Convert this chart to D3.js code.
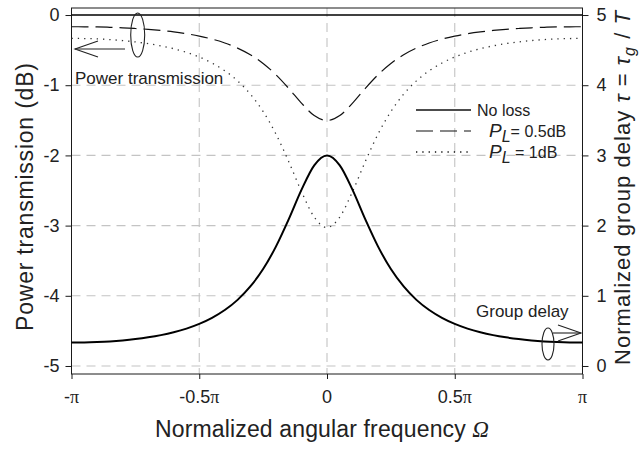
<!DOCTYPE html>
<html><head><meta charset="utf-8">
<script src="https://cdn.jsdelivr.net/npm/d3@7"></script>
<style>
body{margin:0;background:#fff;}
svg{display:block;font-family:"Liberation Sans",Arial,Helvetica,sans-serif;}
</style></head>
<body>
<svg id="c" width="644" height="450"></svg>
<script>
// Normalized angular frequency (units of pi)
const omegaPi = [-1,-0.95,-0.9,-0.85,-0.8,-0.75,-0.7,-0.65,-0.6,-0.55,-0.5,-0.45,-0.4,-0.35,-0.3,-0.25,-0.2,-0.15,-0.1,-0.05,0,
  0.05,0.1,0.15,0.2,0.25,0.3,0.35,0.4,0.45,0.5,0.55,0.6,0.65,0.7,0.75,0.8,0.85,0.9,0.95,1];
// Power transmission (dB)
const powerNoLoss = [0,0,0,0,0,0,0,0,0,0,0,0,0,0,0,0,0,0,0,0,0,0,0,0,0,0,0,0,0,0,0,0,0,0,0,0,0,0,0,0,0];
const power05dB = [-0.167,-0.168,-0.170,-0.175,-0.182,-0.192,-0.204,-0.220,-0.240,-0.266,-0.300,-0.343,-0.398,-0.471,-0.566,-0.690,-0.850,-1.044,-1.255,-1.432,-1.503,
  -1.432,-1.255,-1.044,-0.850,-0.690,-0.566,-0.471,-0.398,-0.343,-0.300,-0.266,-0.240,-0.220,-0.204,-0.192,-0.182,-0.175,-0.170,-0.168,-0.167];
const power1dB = [-0.333,-0.335,-0.340,-0.350,-0.364,-0.383,-0.408,-0.439,-0.480,-0.532,-0.598,-0.684,-0.794,-0.938,-1.127,-1.375,-1.694,-2.086,-2.514,-2.879,-3.027,
  -2.879,-2.514,-2.086,-1.694,-1.375,-1.127,-0.938,-0.794,-0.684,-0.598,-0.532,-0.480,-0.439,-0.408,-0.383,-0.364,-0.350,-0.340,-0.335,-0.333];
// Normalized group delay
const groupDelay = [0.333,0.335,0.341,0.350,0.364,0.383,0.408,0.440,0.481,0.533,0.600,0.686,0.797,0.942,1.133,1.381,1.701,2.089,2.509,2.859,3.000,
  2.859,2.509,2.089,1.701,1.381,1.133,0.942,0.797,0.686,0.600,0.533,0.481,0.440,0.408,0.383,0.364,0.350,0.341,0.335,0.333];
const xTicks = [-1,-0.5,0,0.5,1];
const xTickLabels = ["-", "-0.5", "0", "0.5", ""];
const leftTicks = [0,-1,-2,-3,-4,-5];
const rightTicks = [0,1,2,3,4,5];

const svg = d3.select("#c");
const L = 71.5, R = 582.5, T = 8, B = 374;
const x = d3.scaleLinear().domain([-1,1]).range([L,R]);
const yL = d3.scaleLinear().domain([-5.114,0.1]).range([B,T]);
const yR = d3.scaleLinear().domain([-0.114,5.1]).range([B,T]);
const ink = "#1a1a1a";

// grid
const grid = svg.append("g").attr("stroke","#c4c4c4").attr("stroke-width",1.1).attr("stroke-dasharray","9,6");
[-0.5,0,0.5].forEach(v=>grid.append("line").attr("x1",x(v)).attr("x2",x(v)).attr("y1",T).attr("y2",B));
[-1,-2,-3,-4,-5].forEach(v=>grid.append("line").attr("x1",L).attr("x2",R).attr("y1",yL(v)).attr("y2",yL(v)));

// axes
const axL = d3.axisLeft(yL).tickValues(leftTicks).tickSize(6).tickPadding(6).tickFormat(d=>String(d));
const axR = d3.axisRight(yR).tickValues(rightTicks).tickSize(6).tickPadding(8).tickFormat(d=>String(d));
const axB = d3.axisBottom(x).tickValues(xTicks).tickSize(5).tickFormat("");
function style(g){g.select(".domain").remove();g.selectAll("line").attr("stroke",ink);
  g.selectAll("text").attr("font-size",18).attr("fill","#222").attr("font-family","'Liberation Sans',Arial,sans-serif");}
svg.append("g").attr("transform",`translate(${L},0)`).call(axL).call(style);
svg.append("g").attr("transform",`translate(${R},0)`).call(axR).call(style);
svg.append("g").attr("transform",`translate(0,${B})`).call(axB).call(style);

// x tick labels with serif pi
const xl = svg.append("g").attr("font-size",18).attr("fill","#222");
xTicks.forEach((v,i)=>{
  const t = xl.append("text").attr("x",x(v)).attr("y",403).attr("text-anchor","middle");
  t.append("tspan").text(xTickLabels[i]);
  if(v!==0) t.append("tspan").attr("font-family","'Liberation Serif','Times New Roman',serif").text("π");
});

// frame
svg.append("rect").attr("x",L).attr("y",T).attr("width",R-L).attr("height",B-T)
  .attr("fill","none").attr("stroke",ink).attr("stroke-width",1);

// curves
const lineL = d3.line().x((d,i)=>x(omegaPi[i])).y(d=>yL(d)).curve(d3.curveMonotoneX);
const lineR = d3.line().x((d,i)=>x(omegaPi[i])).y(d=>yR(d)).curve(d3.curveMonotoneX);
svg.append("path").attr("d",lineL(powerNoLoss)).attr("fill","none").attr("stroke","#000").attr("stroke-width",1.3);
svg.append("path").attr("d",lineL(power05dB)).attr("fill","none").attr("stroke","#111").attr("stroke-width",1.2).attr("stroke-dasharray","17,7");
svg.append("path").attr("d",lineL(power1dB)).attr("fill","none").attr("stroke","#333").attr("stroke-width",1.3).attr("stroke-dasharray","1.3,5");
svg.append("path").attr("d",lineR(groupDelay)).attr("fill","none").attr("stroke","#000").attr("stroke-width",2);

// legend
const lg = svg.append("g");
const rows = [{y:110,dash:null,w:1.3},{y:131,dash:"17,7",w:1.2},{y:152,dash:"1.3,5",w:1.3}];
rows.forEach(r=>{
  const l = lg.append("line").attr("x1",416).attr("x2",471).attr("y1",r.y).attr("y2",r.y).attr("stroke","#111").attr("stroke-width",r.w);
  if(r.dash) l.attr("stroke-dasharray",r.dash);
});
lg.append("text").attr("x",477).attr("y",116).attr("font-size",16).attr("fill","#222").text("No loss");
const t2 = lg.append("text").attr("x",489).attr("y",137).attr("font-size",16).attr("fill","#222");
t2.append("tspan").attr("font-style","italic").attr("font-size",19).text("P");
t2.append("tspan").attr("font-style","italic").attr("dy",5).attr("font-size",16).text("L");
t2.append("tspan").attr("dy",-5).text("= 0.5dB");
const t3 = lg.append("text").attr("x",489).attr("y",158).attr("font-size",16).attr("fill","#222");
t3.append("tspan").attr("font-style","italic").attr("font-size",19).text("P");
t3.append("tspan").attr("font-style","italic").attr("dy",5).attr("font-size",16).text("L");
t3.append("tspan").attr("dy",-5).text(" = 1dB");

// annotations
const an = svg.append("g").attr("stroke","#222").attr("fill","none").attr("stroke-width",1.1);
an.append("ellipse").attr("cx",137.7).attr("cy",35).attr("rx",7).attr("ry",22);
an.append("line").attr("x1",75).attr("x2",125).attr("y1",49).attr("y2",49);
an.append("polyline").attr("points","98,41 75,49 98,57");
an.append("ellipse").attr("cx",548).attr("cy",344).attr("rx",6).attr("ry",16);
an.append("line").attr("x1",553).attr("x2",581).attr("y1",333).attr("y2",333);
an.append("polyline").attr("points","558,325 581,333 558,341");
svg.append("text").attr("x",75).attr("y",84).attr("font-size",17).attr("fill","#222").text("Power transmission");
svg.append("text").attr("x",476).attr("y",317).attr("font-size",17).attr("fill","#222").text("Group delay");

// axis titles
const xt = svg.append("text").attr("x",322).attr("y",437).attr("text-anchor","middle").attr("font-size",23).attr("fill","#222")
  .attr("textLength",334).attr("lengthAdjust","spacing");
xt.append("tspan").text("Normalized angular frequency ");
xt.append("tspan").attr("font-style","italic").attr("font-family","'Liberation Serif','Times New Roman',serif").text("Ω");

svg.append("text").attr("transform","translate(33,197) rotate(-90)").attr("text-anchor","middle")
  .attr("font-size",23).attr("fill","#222").attr("textLength",268).attr("lengthAdjust","spacing").text("Power transmission (dB)");

const rt = svg.append("text").attr("transform","translate(630,188) rotate(-90)").attr("text-anchor","middle")
  .attr("font-size",22).attr("fill","#222").attr("textLength",354).attr("lengthAdjust","spacing");
rt.append("tspan").text("Normalized group delay ");
rt.append("tspan").attr("font-style","italic").text("τ");
rt.append("tspan").text(" = ");
rt.append("tspan").attr("font-style","italic").text("τ");
rt.append("tspan").attr("font-style","italic").attr("font-size",16).attr("dy",5).text("g");
rt.append("tspan").attr("dy",-5).text(" / ");
rt.append("tspan").attr("font-style","italic").text("T");
</script>
</body></html>
